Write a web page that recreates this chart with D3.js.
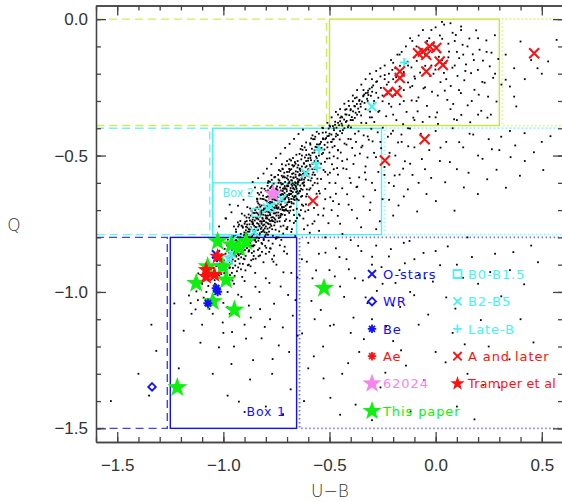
<!DOCTYPE html>
<html>
<head>
<meta charset="utf-8">
<script src="https://cdn.jsdelivr.net/npm/d3@7"></script>
<style>
  body { margin: 0; background: #fff; }
  svg { display: block; font-family: "DejaVu Sans", "Liberation Sans", sans-serif; }
</style>
</head>
<body>
<div id="chart"></div>
<script>
/* global d3 */

// axis ticks
const xTicks = [-1.5, -1.0, -0.5, 0.0, 0.5];
const yTicks = [0.0, -0.5, -1.0, -1.5];

// catalogue field stars [U-B, Q] - dense core of the sequence
const coreDots = [
  [-1.06,-0.93],[-1.04,-0.97],[-1.03,-0.9],[-1.02,-0.94],[-1.01,-0.88],[-1.0,-0.92],[-0.99,-0.86],[-0.98,-0.95],
  [-0.97,-0.89],[-0.96,-0.84],[-0.96,-0.93],[-1.08,-1.0],[-1.1,-0.97],[-1.05,-1.02],[-0.98,-1.0],[-0.95,-0.97],
  [-0.95,-0.82],[-0.94,-0.87],[-0.94,-0.78],[-0.93,-0.84],[-0.93,-0.91],[-0.92,-0.8],[-0.92,-0.86],[-0.91,-0.76],
  [-0.91,-0.83],[-0.9,-0.79],[-0.9,-0.88],[-0.89,-0.74],[-0.89,-0.82],[-0.88,-0.77],[-0.88,-0.85],[-0.87,-0.72],
  [-0.87,-0.8],[-0.86,-0.75],[-0.86,-0.83],[-0.85,-0.78],[-0.85,-0.7],[-0.95,-0.76],[-0.9,-0.72],[-0.92,-0.74],
  [-0.88,-0.9],[-0.86,-0.88],[-0.84,-0.73],[-0.84,-0.8],[-0.83,-0.68],[-0.83,-0.76],[-0.83,-0.84],[-0.82,-0.71],
  [-0.82,-0.78],[-0.81,-0.66],[-0.81,-0.74],[-0.81,-0.81],[-0.8,-0.69],[-0.8,-0.76],[-0.8,-0.63],[-0.79,-0.72],
  [-0.79,-0.79],[-0.78,-0.67],[-0.78,-0.74],[-0.78,-0.84],[-0.77,-0.64],[-0.77,-0.7],[-0.77,-0.77],[-0.76,-0.66],
  [-0.76,-0.73],[-0.75,-0.62],[-0.75,-0.69],[-0.75,-0.8],[-0.84,-0.66],[-0.82,-0.62],[-0.79,-0.6],[-0.76,-0.58],
  [-0.8,-0.86],[-0.77,-0.88],[-0.74,-0.65],[-0.74,-0.72],[-0.73,-0.6],[-0.73,-0.68],[-0.73,-0.76],[-0.72,-0.63],
  [-0.72,-0.7],[-0.71,-0.58],[-0.71,-0.66],[-0.71,-0.74],[-0.7,-0.61],[-0.7,-0.68],[-0.69,-0.56],[-0.69,-0.64],
  [-0.69,-0.71],[-0.68,-0.59],[-0.68,-0.67],[-0.68,-0.78],[-0.67,-0.54],[-0.67,-0.62],[-0.67,-0.7],[-0.66,-0.57],
  [-0.66,-0.65],[-0.65,-0.6],[-0.65,-0.52],[-0.72,-0.55],[-0.7,-0.52],[-0.74,-0.8],[-0.7,-0.77],[-0.66,-0.74],
  [-0.64,-0.55],[-0.64,-0.63],[-0.63,-0.5],[-0.63,-0.58],[-0.63,-0.68],[-0.62,-0.53],[-0.62,-0.61],[-0.61,-0.48],
  [-0.61,-0.56],[-0.61,-0.65],[-0.6,-0.51],[-0.6,-0.59],[-0.59,-0.46],[-0.59,-0.54],[-0.59,-0.62],[-0.58,-0.49],
  [-0.58,-0.57],[-0.57,-0.44],[-0.57,-0.52],[-0.57,-0.6],[-0.56,-0.47],[-0.56,-0.55],[-0.55,-0.5],[-0.55,-0.42],
  [-0.98,-0.83],[-0.97,-0.91],[-0.96,-0.87],[-0.94,-0.81],[-0.93,-0.76],[-0.91,-0.86],[-0.9,-0.75],[-0.89,-0.79],
  [-0.87,-0.83],[-0.86,-0.71],[-0.85,-0.81],[-0.84,-0.69],[-0.83,-0.72],[-0.82,-0.75],[-0.82,-0.82],[-0.81,-0.7],
  [-0.8,-0.73],[-0.8,-0.79],[-0.79,-0.65],[-0.79,-0.69],[-0.78,-0.62],[-0.78,-0.71],[-0.77,-0.61],[-0.77,-0.74],
  [-0.76,-0.69],[-0.76,-0.63],[-0.75,-0.66],[-0.75,-0.72],[-0.74,-0.6],[-0.74,-0.69],[-0.73,-0.63],[-0.73,-0.72],
  [-0.72,-0.58],[-0.72,-0.66],[-0.71,-0.62],[-0.71,-0.7],[-0.7,-0.56],[-0.7,-0.65],[-0.69,-0.6],[-0.69,-0.67],
  [-0.68,-0.55],[-0.68,-0.63],[-0.67,-0.58],[-0.67,-0.66],[-0.66,-0.53],[-0.66,-0.61],[-0.65,-0.56],[-0.65,-0.64],
  [-0.64,-0.59],[-0.63,-0.54],[-0.62,-0.57],[-0.61,-0.52],[-0.6,-0.55],[-0.59,-0.5],[-0.58,-0.53],[-0.57,-0.48],
  [-0.56,-0.51],[-0.55,-0.46]
];

// more of the core, read strip by strip in U-B
const coreDots2 = [
  [-1.047,-0.912],[-1.041,-0.957],[-1.036,-0.873],[-1.029,-0.934],[-1.024,-0.981],[-1.018,-0.896],[-1.013,-0.948],
  [-1.008,-0.862],[-1.004,-0.921],[-1.002,-0.969],[-1.033,-0.905],[-1.015,-0.927],
  [-0.998,-0.884],[-0.994,-0.842],[-0.991,-0.917],[-0.987,-0.963],[-0.983,-0.871],[-0.979,-0.808],[-0.976,-0.902],
  [-0.972,-0.856],[-0.969,-0.938],[-0.965,-0.823],[-0.962,-0.889],[-0.958,-0.847],[-0.955,-0.912],[-0.952,-0.795],
  [-0.996,-0.931],[-0.981,-0.829],[-0.967,-0.874],[-0.957,-0.958],[-0.986,-0.899],[-0.961,-0.836],
  [-0.949,-0.853],[-0.946,-0.812],[-0.944,-0.887],[-0.941,-0.771],[-0.938,-0.835],[-0.936,-0.924],[-0.933,-0.798],
  [-0.931,-0.861],[-0.928,-0.818],[-0.926,-0.753],[-0.923,-0.896],[-0.921,-0.842],[-0.918,-0.787],[-0.916,-0.873],
  [-0.913,-0.809],[-0.911,-0.945],[-0.908,-0.764],[-0.906,-0.851],[-0.903,-0.826],[-0.901,-0.782],[-0.947,-0.941],
  [-0.939,-0.869],[-0.932,-0.745],[-0.924,-0.806],[-0.917,-0.917],[-0.909,-0.839],[-0.904,-0.878],[-0.942,-0.795],
  [-0.927,-0.866],[-0.914,-0.757],
  [-0.899,-0.812],[-0.897,-0.743],[-0.895,-0.868],[-0.893,-0.785],[-0.891,-0.727],[-0.889,-0.839],[-0.887,-0.764],
  [-0.885,-0.902],[-0.883,-0.801],[-0.881,-0.716],[-0.879,-0.847],[-0.877,-0.779],[-0.875,-0.738],[-0.873,-0.821],
  [-0.871,-0.763],[-0.869,-0.884],[-0.867,-0.703],[-0.865,-0.795],[-0.863,-0.752],[-0.861,-0.833],[-0.859,-0.726],
  [-0.857,-0.868],[-0.855,-0.772],[-0.853,-0.711],[-0.851,-0.807],[-0.896,-0.921],[-0.888,-0.753],[-0.882,-0.826],
  [-0.874,-0.694],[-0.868,-0.812],[-0.862,-0.744],[-0.856,-0.851],[-0.852,-0.738],[-0.894,-0.774],[-0.878,-0.728],
  [-0.866,-0.857],[-0.858,-0.789],[-0.886,-0.797],[-0.872,-0.906],[-0.854,-0.829],
  [-0.849,-0.762],[-0.847,-0.694],[-0.846,-0.817],[-0.844,-0.731],[-0.842,-0.658],[-0.841,-0.789],[-0.839,-0.712],
  [-0.837,-0.846],[-0.836,-0.675],[-0.834,-0.751],[-0.832,-0.803],[-0.831,-0.643],[-0.829,-0.724],[-0.827,-0.866],
  [-0.826,-0.688],[-0.824,-0.769],[-0.822,-0.635],[-0.821,-0.742],[-0.819,-0.701],[-0.817,-0.824],[-0.816,-0.659],
  [-0.814,-0.778],[-0.812,-0.717],[-0.811,-0.891],[-0.809,-0.681],[-0.807,-0.753],[-0.806,-0.622],[-0.804,-0.796],
  [-0.802,-0.706],[-0.801,-0.664],[-0.848,-0.878],[-0.843,-0.772],[-0.838,-0.637],[-0.833,-0.695],[-0.828,-0.785],
  [-0.823,-0.716],[-0.818,-0.853],[-0.813,-0.647],[-0.808,-0.739],[-0.803,-0.831],[-0.845,-0.709],[-0.835,-0.812],
  [-0.825,-0.658],[-0.815,-0.732],[-0.805,-0.767],[-0.84,-0.668],[-0.83,-0.758],[-0.82,-0.683],[-0.81,-0.806],
  [-0.834,-0.869],
  [-0.799,-0.721],[-0.797,-0.652],[-0.796,-0.783],[-0.794,-0.689],[-0.792,-0.611],[-0.791,-0.748],[-0.789,-0.673],
  [-0.787,-0.812],[-0.786,-0.632],[-0.784,-0.706],[-0.782,-0.764],[-0.781,-0.596],[-0.779,-0.684],[-0.777,-0.841],
  [-0.776,-0.647],[-0.774,-0.727],[-0.772,-0.589],[-0.771,-0.698],[-0.769,-0.661],[-0.767,-0.794],[-0.766,-0.617],
  [-0.764,-0.741],[-0.762,-0.676],[-0.761,-0.867],[-0.759,-0.638],[-0.757,-0.712],[-0.756,-0.578],[-0.754,-0.772],
  [-0.752,-0.664],[-0.751,-0.623],[-0.798,-0.838],[-0.793,-0.731],[-0.788,-0.594],[-0.783,-0.657],[-0.778,-0.752],
  [-0.773,-0.679],[-0.768,-0.823],[-0.763,-0.603],[-0.758,-0.693],[-0.753,-0.805],[-0.795,-0.667],[-0.785,-0.779],
  [-0.775,-0.615],[-0.765,-0.701],[-0.755,-0.735],[-0.79,-0.628],[-0.78,-0.717],[-0.77,-0.644],[-0.76,-0.756],
  [-0.784,-0.853],[-0.774,-0.572],[-0.764,-0.889],[-0.796,-0.704],[-0.758,-0.661],[-0.771,-0.737],
  [-0.749,-0.684],[-0.747,-0.613],[-0.746,-0.742],[-0.744,-0.651],[-0.742,-0.571],[-0.741,-0.709],[-0.739,-0.634],
  [-0.737,-0.778],[-0.736,-0.592],[-0.734,-0.667],[-0.732,-0.726],[-0.731,-0.557],[-0.729,-0.645],[-0.727,-0.809],
  [-0.726,-0.606],[-0.724,-0.688],[-0.722,-0.548],[-0.721,-0.659],[-0.719,-0.621],[-0.717,-0.757],[-0.716,-0.576],
  [-0.714,-0.702],[-0.712,-0.637],[-0.711,-0.834],[-0.709,-0.597],[-0.707,-0.673],[-0.706,-0.536],[-0.704,-0.734],
  [-0.702,-0.624],[-0.701,-0.583],[-0.748,-0.801],[-0.743,-0.694],[-0.738,-0.553],[-0.733,-0.617],[-0.728,-0.714],
  [-0.723,-0.641],[-0.718,-0.786],[-0.713,-0.563],[-0.708,-0.654],[-0.703,-0.768],[-0.745,-0.627],[-0.735,-0.741],
  [-0.725,-0.574],[-0.715,-0.663],[-0.705,-0.697],[-0.74,-0.588],[-0.73,-0.679],[-0.72,-0.604],[-0.71,-0.718],
  [-0.734,-0.829],[-0.724,-0.532],[-0.714,-0.851],[-0.746,-0.664],[-0.708,-0.621],[-0.721,-0.699],
  [-0.699,-0.645],[-0.697,-0.574],[-0.696,-0.703],[-0.694,-0.612],[-0.692,-0.532],[-0.691,-0.67],[-0.689,-0.595],
  [-0.687,-0.739],[-0.686,-0.553],[-0.684,-0.628],[-0.682,-0.687],[-0.681,-0.518],[-0.679,-0.606],[-0.677,-0.77],
  [-0.676,-0.567],[-0.674,-0.649],[-0.672,-0.509],[-0.671,-0.62],[-0.669,-0.582],[-0.667,-0.718],[-0.666,-0.537],
  [-0.664,-0.663],[-0.662,-0.598],[-0.661,-0.795],[-0.659,-0.558],[-0.657,-0.634],[-0.656,-0.497],[-0.654,-0.695],
  [-0.652,-0.585],[-0.651,-0.544],[-0.698,-0.762],[-0.693,-0.655],[-0.688,-0.514],[-0.683,-0.578],[-0.678,-0.675],
  [-0.673,-0.602],[-0.668,-0.747],[-0.663,-0.524],[-0.658,-0.615],[-0.653,-0.729],[-0.695,-0.588],[-0.685,-0.702],
  [-0.675,-0.535],[-0.665,-0.624],[-0.655,-0.658],[-0.69,-0.549],[-0.68,-0.64],[-0.67,-0.565],
  [-0.649,-0.606],[-0.647,-0.535],[-0.645,-0.664],[-0.643,-0.573],[-0.641,-0.494],[-0.639,-0.631],[-0.637,-0.556],
  [-0.635,-0.7],[-0.633,-0.514],[-0.631,-0.589],[-0.629,-0.648],[-0.627,-0.479],[-0.625,-0.567],[-0.623,-0.731],
  [-0.621,-0.528],[-0.619,-0.61],[-0.617,-0.47],[-0.615,-0.581],[-0.613,-0.543],[-0.611,-0.679],[-0.609,-0.498],
  [-0.607,-0.624],[-0.605,-0.559],[-0.603,-0.756],[-0.601,-0.519],[-0.644,-0.716],[-0.636,-0.476],[-0.626,-0.601],
  [-0.616,-0.507],[-0.606,-0.641],[-0.64,-0.548],[-0.63,-0.465],[-0.62,-0.588],[-0.61,-0.452],[-0.634,-0.622],
  [-0.614,-0.705],[-0.604,-0.574],[-0.646,-0.597],[-0.624,-0.684],[-0.608,-0.539],
  [-0.599,-0.567],[-0.597,-0.496],[-0.595,-0.625],[-0.593,-0.534],[-0.591,-0.455],[-0.589,-0.592],[-0.587,-0.517],
  [-0.585,-0.661],[-0.583,-0.475],[-0.581,-0.55],[-0.579,-0.609],[-0.577,-0.44],[-0.575,-0.528],[-0.573,-0.692],
  [-0.571,-0.489],[-0.569,-0.571],[-0.567,-0.431],[-0.565,-0.542],[-0.563,-0.504],[-0.561,-0.64],[-0.559,-0.459],
  [-0.557,-0.585],[-0.555,-0.52],[-0.553,-0.717],[-0.551,-0.48],[-0.594,-0.677],[-0.586,-0.437],[-0.576,-0.562],
  [-0.566,-0.468],[-0.556,-0.602],[-0.59,-0.509],[-0.58,-0.426],[-0.57,-0.549],[-0.56,-0.413],[-0.584,-0.583],
  [-0.987,-0.731],[-0.962,-0.708],[-0.931,-0.684],[-0.905,-0.662],[-0.878,-0.638],[-0.851,-0.617],[-0.913,-0.713],
  [-0.887,-0.689],[-0.862,-0.597],[-0.836,-0.583],[-0.811,-0.566],[-0.795,-0.548],[-0.774,-0.531],[-0.752,-0.509],
  [-0.731,-0.493],[-0.709,-0.472],[-0.688,-0.457],[-0.667,-0.439],[-0.646,-0.421],[-0.625,-0.405]
];

// the darkest ridge of the core
const coreDots3 = [
  [-0.902,-0.793],[-0.897,-0.827],[-0.893,-0.761],[-0.889,-0.808],[-0.884,-0.779],[-0.881,-0.852],[-0.877,-0.752],
  [-0.873,-0.797],[-0.869,-0.768],[-0.866,-0.831],[-0.862,-0.735],[-0.858,-0.808],[-0.855,-0.757],[-0.851,-0.782],
  [-0.848,-0.726],[-0.844,-0.801],[-0.841,-0.748],[-0.837,-0.773],[-0.834,-0.717],[-0.83,-0.79],[-0.827,-0.741],
  [-0.823,-0.703],[-0.82,-0.764],[-0.816,-0.728],[-0.813,-0.756],[-0.809,-0.694],[-0.806,-0.781],[-0.802,-0.719],
  [-0.799,-0.745],[-0.795,-0.686],[-0.792,-0.768],[-0.788,-0.708],[-0.785,-0.735],[-0.781,-0.677],[-0.778,-0.699],
  [-0.774,-0.758],[-0.771,-0.671],[-0.767,-0.726],[-0.764,-0.692],[-0.76,-0.648],[-0.757,-0.745],[-0.753,-0.683],
  [-0.75,-0.709],[-0.746,-0.642],[-0.743,-0.676],[-0.739,-0.729],[-0.736,-0.652],[-0.732,-0.697],[-0.729,-0.628],
  [-0.725,-0.668],[-0.722,-0.716],[-0.718,-0.643],[-0.715,-0.689],[-0.711,-0.612],[-0.708,-0.655],[-0.704,-0.701],
  [-0.701,-0.631],[-0.697,-0.672],[-0.694,-0.603],[-0.69,-0.645],[-0.687,-0.689],[-0.683,-0.619],[-0.68,-0.659],
  [-0.676,-0.592],[-0.673,-0.634],[-0.669,-0.676],[-0.666,-0.607],[-0.662,-0.648],[-0.659,-0.579],[-0.655,-0.622],
  [-0.652,-0.661],[-0.648,-0.594],[-0.645,-0.638],[-0.641,-0.568],[-0.638,-0.61],[-0.634,-0.651],[-0.631,-0.582],
  [-0.627,-0.625],[-0.624,-0.556],[-0.62,-0.598],
  [-0.899,-0.846],[-0.891,-0.789],[-0.883,-0.818],[-0.875,-0.771],[-0.867,-0.742],[-0.859,-0.776],[-0.851,-0.811],
  [-0.843,-0.763],[-0.835,-0.734],[-0.827,-0.709],[-0.819,-0.742],[-0.811,-0.773],[-0.803,-0.697],[-0.795,-0.728],
  [-0.787,-0.751],[-0.779,-0.718],[-0.771,-0.689],[-0.763,-0.712],[-0.755,-0.663],[-0.747,-0.694],[-0.739,-0.671],
  [-0.731,-0.643],[-0.723,-0.691],[-0.715,-0.621],[-0.707,-0.684],[-0.699,-0.613],[-0.691,-0.662],[-0.683,-0.641],
  [-0.675,-0.611],[-0.667,-0.653],[-0.659,-0.601],[-0.651,-0.631],[-0.643,-0.588],[-0.635,-0.571],[-0.627,-0.603],
  [-0.619,-0.562],
  [-0.952,-0.862],[-0.944,-0.903],[-0.937,-0.846],[-0.929,-0.879],[-0.922,-0.829],[-0.915,-0.857],[-0.908,-0.897],
  [-0.956,-0.881],[-0.934,-0.815],[-0.919,-0.801],[-0.971,-0.912],[-0.977,-0.878],[-0.985,-0.918],[-0.993,-0.897],
  [-1.01,-0.935],[-1.021,-0.911]
];

// upper sequence towards late types
const bandDots = [
  [-0.54,-0.45],[-0.54,-0.53],[-0.53,-0.4],[-0.53,-0.49],[-0.52,-0.44],[-0.52,-0.56],[-0.51,-0.38],[-0.51,-0.47],
  [-0.5,-0.42],[-0.5,-0.51],[-0.49,-0.36],[-0.49,-0.45],[-0.48,-0.4],[-0.48,-0.55],[-0.47,-0.34],[-0.47,-0.43],
  [-0.46,-0.38],[-0.46,-0.48],[-0.45,-0.33],[-0.45,-0.41],[-0.44,-0.36],[-0.44,-0.52],[-0.43,-0.31],[-0.43,-0.4],
  [-0.42,-0.35],[-0.42,-0.46],[-0.41,-0.3],[-0.41,-0.39],[-0.4,-0.33],[-0.4,-0.44],[-0.39,-0.28],[-0.39,-0.37],
  [-0.38,-0.32],[-0.38,-0.42],[-0.37,-0.26],[-0.37,-0.35],[-0.36,-0.3],[-0.35,-0.24],[-0.35,-0.38],[-0.34,-0.28],
  [-0.33,-0.22],[-0.33,-0.33],[-0.32,-0.27],[-0.31,-0.2],[-0.31,-0.36],[-0.3,-0.25],[-0.29,-0.3],[-0.28,-0.19],
  [-0.28,-0.23],[-0.27,-0.34],[-0.26,-0.21],[-0.25,-0.28],[-0.24,-0.17],[-0.23,-0.24],[-0.22,-0.31],[-0.21,-0.15],
  [-0.2,-0.22],[-0.19,-0.18],[-0.18,-0.27],[-0.17,-0.13],[-0.16,-0.21],[-0.15,-0.3],[-0.14,-0.1],[-0.13,-0.17],
  [-0.12,-0.25],[-0.11,-0.08],[-0.1,-0.14],[-0.1,-0.21],[-0.09,-0.3],[-0.08,-0.06],[-0.07,-0.11],[-0.06,-0.18],
  [-0.05,-0.25],[-0.04,-0.08],[-0.03,-0.14],[-0.02,-0.04],[-0.01,-0.2],[0.0,-0.1],[0.01,-0.28],[0.02,-0.06],
  [0.03,-0.15],[0.04,-0.02],[0.05,-0.22],[0.06,-0.09],[0.07,-0.33],[0.08,-0.05],[0.09,-0.17],[0.1,-0.12],
  [0.11,-0.26],[0.12,-0.04],[0.14,-0.19],[0.15,-0.1],[0.17,-0.3],[0.18,-0.15],[0.2,-0.07],[0.22,-0.23],
  [0.24,-0.12],[0.26,-0.35],[0.28,-0.2],[-0.3,-0.36],[-0.2,-0.35],[-0.1,-0.37],[0.0,-0.36],[0.1,-0.37],
  [0.2,-0.35],[-0.4,-0.37],[-0.53,-0.44],[-0.5,-0.39],[-0.48,-0.44],[-0.46,-0.35],[-0.44,-0.39],[-0.42,-0.33],
  [-0.4,-0.37],[-0.38,-0.29],[-0.36,-0.34],[-0.34,-0.26],[-0.32,-0.3],[-0.3,-0.22],[-0.28,-0.27],[-0.26,-0.18],
  [-0.24,-0.22],[-0.22,-0.2],[-0.2,-0.16],[-0.18,-0.13],[-0.16,-0.12],[-0.14,-0.16],[-0.12,-0.07],[-0.09,-0.1],
  [-0.06,-0.04],[-0.03,-0.07],[0.0,-0.03],[0.03,-0.01],[-0.05,-0.13],[-0.02,-0.17],[0.02,-0.12],[0.06,-0.14],
  [0.09,-0.08],[0.13,-0.13],[0.07,-0.015],[0.12,-0.027],[0.40,-0.082],[0.53,-0.155],[0.48,-0.18],[0.57,-0.076],
  [0.33,-0.222],[0.35,-0.247],[0.37,-0.284],[0.33,-0.13],[0.37,-0.18],[0.42,-0.22],[0.45,-0.15],[0.5,-0.2],
  [0.38,-0.32],[0.31,-0.24]
];

const bandDots2 = [
  [-0.548,-0.528],[-0.544,-0.457],[-0.54,-0.586],[-0.536,-0.495],[-0.532,-0.416],[-0.528,-0.553],[-0.524,-0.478],
  [-0.52,-0.622],[-0.516,-0.436],[-0.512,-0.511],[-0.508,-0.57],[-0.504,-0.401],[-0.5,-0.489],[-0.496,-0.653],
  [-0.492,-0.45],[-0.488,-0.532],[-0.484,-0.392],[-0.48,-0.503],[-0.476,-0.465],[-0.472,-0.601],[-0.468,-0.42],
  [-0.464,-0.546],[-0.46,-0.481],[-0.456,-0.678],[-0.452,-0.441],[-0.546,-0.639],[-0.534,-0.398],[-0.522,-0.523],
  [-0.51,-0.429],[-0.498,-0.563],[-0.486,-0.47],[-0.474,-0.387],[-0.462,-0.51],[-0.45,-0.374],
  [-0.447,-0.489],[-0.441,-0.418],[-0.435,-0.547],[-0.429,-0.456],[-0.423,-0.377],[-0.417,-0.514],[-0.411,-0.439],
  [-0.405,-0.583],[-0.399,-0.397],[-0.393,-0.472],[-0.387,-0.531],[-0.381,-0.362],[-0.375,-0.45],[-0.369,-0.614],
  [-0.363,-0.411],[-0.357,-0.493],[-0.351,-0.353],[-0.345,-0.464],[-0.339,-0.426],[-0.333,-0.562],[-0.327,-0.381],
  [-0.321,-0.507],[-0.315,-0.442],[-0.309,-0.339],[-0.303,-0.402],[-0.444,-0.357],[-0.426,-0.332],[-0.408,-0.318],
  [-0.39,-0.301],[-0.372,-0.287],[-0.354,-0.311],[-0.336,-0.276],[-0.318,-0.262],
  [-0.297,-0.448],[-0.289,-0.377],[-0.281,-0.506],[-0.273,-0.415],[-0.265,-0.336],[-0.257,-0.473],[-0.249,-0.398],
  [-0.241,-0.542],[-0.233,-0.356],[-0.225,-0.431],[-0.217,-0.49],[-0.209,-0.321],[-0.201,-0.409],[-0.193,-0.573],
  [-0.185,-0.37],[-0.177,-0.452],[-0.169,-0.312],[-0.161,-0.423],[-0.153,-0.385],[-0.145,-0.521],[-0.137,-0.34],
  [-0.129,-0.466],[-0.121,-0.401],[-0.113,-0.298],[-0.105,-0.361],[-0.294,-0.243],[-0.276,-0.228],[-0.258,-0.252],
  [-0.24,-0.205],[-0.222,-0.231],[-0.204,-0.186],[-0.186,-0.213],[-0.168,-0.171],[-0.15,-0.194],[-0.132,-0.156],
  [-0.114,-0.177],[-0.29,-0.31],[-0.27,-0.288],[-0.25,-0.301],[-0.23,-0.276],[-0.21,-0.262],[-0.19,-0.278],
  [-0.17,-0.247],[-0.15,-0.26],[-0.13,-0.232],[-0.11,-0.245],
  [-0.097,-0.218],[-0.089,-0.153],[-0.081,-0.287],[-0.073,-0.196],[-0.065,-0.124],[-0.057,-0.254],[-0.049,-0.171],
  [-0.041,-0.318],[-0.033,-0.112],[-0.025,-0.209],[-0.017,-0.266],[-0.009,-0.087],[-0.001,-0.185],[0.007,-0.342],
  [0.015,-0.138],[0.023,-0.231],[0.031,-0.072],[0.039,-0.197],[0.047,-0.161],[0.055,-0.296],[0.063,-0.119],
  [0.071,-0.245],[0.079,-0.178],[0.087,-0.367],[0.095,-0.058],[0.103,-0.208],[0.111,-0.143],[0.119,-0.271],
  [0.127,-0.094],[0.135,-0.224],[0.143,-0.166],[0.151,-0.316],[0.159,-0.071],[0.167,-0.198],[0.175,-0.129],
  [0.183,-0.259],[0.191,-0.041],[0.199,-0.186],[0.207,-0.112],[0.215,-0.336],[0.223,-0.152],[0.231,-0.233],
  [0.239,-0.078],[0.247,-0.284],[0.255,-0.173],[0.263,-0.123],[0.271,-0.215],[0.279,-0.059],[0.287,-0.302],
  [0.295,-0.146],[-0.085,-0.338],[-0.061,-0.377],[-0.029,-0.358],[0.011,-0.384],[0.043,-0.262],[0.083,-0.311],
  [0.121,-0.351],[0.163,-0.378],[0.203,-0.277],[0.244,-0.361],
  [-0.538,-0.472],[-0.531,-0.437],[-0.523,-0.461],[-0.517,-0.415],[-0.509,-0.452],[-0.503,-0.428],[-0.497,-0.394],
  [-0.491,-0.423],[-0.485,-0.441],[-0.479,-0.407],[-0.473,-0.376],[-0.467,-0.398],[-0.461,-0.425],[-0.455,-0.389],
  [-0.449,-0.361],[-0.443,-0.383],[-0.437,-0.407],[-0.431,-0.368],[-0.425,-0.349],[-0.419,-0.373],[-0.413,-0.396],
  [-0.407,-0.352],[-0.401,-0.334],[-0.395,-0.359],[-0.389,-0.338],[-0.383,-0.318],[-0.377,-0.343],[-0.371,-0.311],
  [-0.365,-0.328],[-0.359,-0.296],[-0.353,-0.321],[-0.347,-0.302],[-0.341,-0.283],[-0.335,-0.307],[-0.329,-0.271],
  [-0.323,-0.292],[-0.317,-0.278],[-0.311,-0.255],[-0.305,-0.281],[-0.299,-0.266]
];

// sparse population below the sequence
const scatterDots = [
  [-0.64,-0.72],[-0.62,-0.77],[-0.6,-0.7],[-0.58,-0.75],[-0.56,-0.68],[-0.55,-0.63],[-0.53,-0.72],[-0.52,-0.66],
  [-0.5,-0.6],[-0.49,-0.7],[-0.47,-0.64],[-0.46,-0.57],[-0.45,-0.75],[-0.44,-0.62],[-0.42,-0.55],[-0.41,-0.68],
  [-0.4,-0.6],[-0.38,-0.5],[-0.37,-0.73],[-0.36,-0.58],[-0.35,-0.47],[-0.34,-0.65],[-0.33,-0.54],[-0.32,-0.43],
  [-0.31,-0.7],[-0.3,-0.6],[-0.29,-0.49],[-0.28,-0.77],[-0.27,-0.56],[-0.26,-0.45],[-0.25,-0.66],[-0.24,-0.52],
  [-0.22,-0.6],[-0.21,-0.42],[-0.2,-0.72],[-0.19,-0.5],[-0.17,-0.57],[-0.16,-0.45],[-0.15,-0.65],[-0.13,-0.4],
  [-0.12,-0.53],[-0.1,-0.47],[-0.08,-0.6],[-0.07,-0.42],[-0.05,-0.55],[-0.03,-0.48],[0.0,-0.41],[0.02,-0.52],
  [0.05,-0.45],[0.08,-0.4],[0.1,-0.55],[0.13,-0.47],[0.16,-0.42],[0.2,-0.5],[0.25,-0.44],[0.3,-0.48],
  [0.35,-0.41],[0.42,-0.52],[0.5,-0.45],
  [-1.08,-1.05],[-1.12,-1.03],[-1.15,-1.08],[-1.1,-1.12],[-1.05,-1.08],[-1.0,-1.04],[-0.97,-1.08],[-0.93,-1.01],
  [-0.9,-0.96],[-0.88,-1.05],[-0.85,-0.93],[-0.83,-1.0],[-0.8,-0.95],[-0.78,-1.1],[-0.75,-0.9],[-0.73,-0.98],
  [-0.7,-0.86],[-0.68,-0.93],[-0.66,-1.03],[-0.63,-0.88],[-0.6,-0.82],[-0.58,-0.95],[-0.55,-0.86],[-0.52,-0.8],
  [-0.5,-0.92],[-0.47,-0.84],[-0.45,-0.98],[-0.42,-0.88],[-0.4,-0.81],[-0.38,-0.95],[-0.35,-0.85],[-0.33,-1.02],
  [-0.3,-0.9],[-0.28,-0.83],[-0.25,-0.97],[-0.22,-0.87],[-0.2,-1.05],[-0.17,-0.92],[-0.15,-0.82],[-0.12,-1.0],
  [-0.1,-0.88],[-0.05,-0.95],[0.0,-0.85],[0.05,-1.02],[0.1,-0.9],[0.15,-0.8],[0.2,-0.97],[0.28,-0.86],
  [0.35,-0.92],[0.45,-0.83],
  [-1.0,-1.15],[-0.95,-1.2],[-0.9,-1.12],[-0.86,-1.25],[-0.82,-1.17],[-0.77,-1.3],[-0.72,-1.13],[-0.69,-1.22],
  [-0.65,-1.16],[-0.6,-1.28],[-0.57,-1.1],[-0.53,-1.2],[-0.48,-1.12],[-0.44,-1.3],[-0.4,-1.15],[-0.36,-1.22],
  [-0.3,-1.1],[-0.26,-1.35],[-0.2,-1.18],[-0.14,-1.27],[-0.08,-1.12],[0.0,-1.22],[0.08,-1.15],[0.15,-1.3],
  [0.25,-1.2],[0.4,-1.1],[-1.05,-1.3],[-0.98,-1.38],[-0.9,-1.44],[-0.8,-1.42],[-0.62,-1.4],[-0.45,-1.45],
  [-0.3,-1.47],[0.1,-1.42],[0.3,-1.35],[-1.339,-1.12],[-1.316,-1.216],[-1.4,-1.30],[-1.53,-1.4],[-1.35,-1.38],
  [-1.21,-1.28],[-0.99,-0.73],[-1.02,-0.76],[-0.97,-0.68]
];

const scatterDots2 = [
  [-0.593,-0.783],[-0.571,-0.741],[-0.549,-0.776],[-0.527,-0.694],[-0.505,-0.748],[-0.483,-0.667],[-0.461,-0.721],
  [-0.439,-0.787],[-0.417,-0.642],[-0.395,-0.699],[-0.373,-0.616],[-0.351,-0.763],[-0.329,-0.588],[-0.307,-0.672],
  [-0.285,-0.627],[-0.263,-0.741],[-0.241,-0.571],[-0.219,-0.662],[-0.197,-0.612],[-0.175,-0.683],[-0.153,-0.548],
  [-0.131,-0.624],[-0.109,-0.571],[-0.087,-0.705],[-0.065,-0.513],[-0.043,-0.641],[-0.021,-0.582],[0.001,-0.667],
  [0.023,-0.471],[0.045,-0.598],[0.067,-0.524],[0.089,-0.702],[0.111,-0.451],[0.133,-0.617],[0.155,-0.563],
  [0.177,-0.423],[0.199,-0.641],[0.221,-0.512],[0.243,-0.587],[0.265,-0.477],[0.287,-0.552],[0.309,-0.431],
  [0.331,-0.618],[0.353,-0.506],[0.375,-0.463],[0.397,-0.574],[0.419,-0.418],[0.463,-0.488],[0.507,-0.553],
  [0.541,-0.429],
  [-1.003,-1.112],[-0.981,-1.056],[-0.959,-1.147],[-0.937,-1.083],[-0.915,-1.018],[-0.893,-1.171],[-0.871,-1.094],
  [-0.849,-0.981],[-0.827,-1.063],[-0.805,-1.128],[-0.783,-0.967],[-0.761,-1.043],[-0.739,-1.196],[-0.717,-0.928],
  [-0.695,-1.011],[-0.673,-1.087],[-0.651,-0.947],[-0.629,-1.152],[-0.607,-0.889],[-0.585,-1.033],[-0.563,-0.921],
  [-0.541,-1.066],[-0.519,-0.856],[-0.497,-1.124],[-0.475,-0.943],[-0.453,-0.872],[-0.431,-1.018],[-0.409,-0.917],
  [-0.387,-1.094],[-0.365,-0.831],[-0.343,-0.958],[-0.321,-1.041],[-0.299,-0.871],[-0.277,-0.996],[-0.255,-0.909],
  [-0.233,-1.127],[-0.211,-0.843],[-0.189,-0.967],[-0.167,-1.055],[-0.145,-0.895],[-0.123,-0.813],[-0.101,-1.012],
  [-0.079,-0.938],[-0.057,-0.857],[-0.035,-1.083],[-0.013,-0.962],[0.021,-0.902],[0.057,-0.833],[0.093,-1.061],
  [0.129,-0.948],[0.171,-0.872],[0.213,-1.103],[0.257,-0.927],[0.309,-1.016],[0.366,-0.854],[0.417,-0.972],
  [0.482,-0.891],[-0.962,-1.264],[-0.874,-1.321],[-0.768,-1.246],[-0.683,-1.357],[-0.574,-1.236],[-0.496,-1.388],
  [-0.412,-1.261],[-0.338,-1.173],[-0.237,-1.296],[-0.163,-1.214],[-0.054,-1.323],[0.047,-1.258],[0.137,-1.192],
  [0.224,-1.341],[0.348,-1.247],[0.461,-1.185],[-1.021,-1.203],[-0.927,-1.402],[-0.719,-1.448],[-0.528,-1.317],
  [-0.377,-1.413],[-0.118,-1.438],[0.183,-1.467],[-1.162,-1.013],[-1.131,-1.064],[-1.187,-1.142],[-1.108,-1.186],
  [-1.231,-1.042],[-1.142,-0.963],[-1.127,-0.998],[-1.093,-1.021],[-1.118,-0.932],[-1.071,-0.978],[-1.154,-1.041],
  [-1.066,-1.062]
];

// selection boxes [U-B min, U-B max, Q min, Q max]
const boxYellow = [-0.5, 0.3, -0.39, 0.0];
const boxCyan = [-1.05, -0.255, -0.79, -0.40];
const box2 = [-1.05, -0.655, -0.79, -0.60];
const box1 = [-1.25, -0.655, -1.5, -0.80];

// classified stars [U-B, Q]
const oStars = [[-1.035, -0.862]];
const wrStars = [[-1.336, -1.348]];
const beStars = [[-1.034, -0.986], [-1.027, -0.999], [-1.073, -1.041], [-1.03, -0.875]];
const b0Stars = [[-0.847, -0.709]];
const b2Stars = [[-0.956, -0.809], [-0.964, -0.858], [-0.975, -0.882], [-0.855, -0.779], [-0.792, -0.693],
  [-0.777, -0.687], [-0.725, -0.659], [-0.612, -0.565], [-0.30, -0.32]];
const lateBStars = [[-0.558, -0.546], [-0.565, -0.528], [-0.55, -0.479], [-0.148, -0.159]];
const aStars = [[0.464, -0.125], [-0.083, -0.125], [-0.06, -0.119], [-0.028, -0.10], [0.003, -0.106],
  [-0.044, -0.131], [0.019, -0.155], [0.034, -0.168], [-0.044, -0.192], [-0.169, -0.192], [-0.169, -0.216],
  [-0.224, -0.268], [-0.183, -0.268], [-0.052, -0.44], [-0.239, -0.518], [-0.578, -0.666]];
const star62024 = [[-0.766, -0.64]];
const tramperStars = [[-1.027, -0.870], [-1.081, -0.919], [-1.042, -0.937], [-1.081, -0.944]];
const paperStars = [[-1.027, -0.815], [-0.893, -0.815], [-0.925, -0.839], [-0.962, -0.827], [-1.074, -0.907],
  [-1.003, -0.907], [-1.128, -0.968], [-0.987, -0.956], [-1.050, -1.035], [-0.948, -1.066],
  [-1.217, -1.350], [-0.526, -0.986]];

const legendLeft = ["O-stars", "WR", "Be", "Ae", "62024", "This paper"];
const legendRight = ["B0-B1.5", "B2-B5", "Late-B", "A and later", "Tramper et al"];

const BLUE = "#1010ff", RED = "#ff1010", CYAN = "#4af2f2", GREEN = "#10f010", VIOLET = "#f585ee", YELLOW = "#c8e632";

// symbol shapes, r is half size
const shapes = {
  star(p, r) {
    for (let i = 0; i < 10; i++) {
      const a = -Math.PI / 2 + i * Math.PI / 5;
      const rr = i % 2 ? r * 0.4 : r;
      if (i === 0) p.moveTo(rr * Math.cos(a), rr * Math.sin(a));
      else p.lineTo(rr * Math.cos(a), rr * Math.sin(a));
    }
    p.closePath();
  },
  times(p, r) { p.moveTo(-r, -r); p.lineTo(r, r); p.moveTo(-r, r); p.lineTo(r, -r); },
  plus(p, r) { p.moveTo(-r, 0); p.lineTo(r, 0); p.moveTo(0, -r); p.lineTo(0, r); },
  square(p, r) { p.rect(-r, -r, 2 * r, 2 * r); },
  diamond(p, r) { p.moveTo(0, -r); p.lineTo(r, 0); p.lineTo(0, r); p.lineTo(-r, 0); p.closePath(); },
  asterisk(p, r) {
    for (let i = 0; i < 4; i++) {
      const a = i * Math.PI / 4;
      p.moveTo(-r * Math.cos(a), -r * Math.sin(a)); p.lineTo(r * Math.cos(a), r * Math.sin(a));
    }
  }
};
function shapePath(name, r) {
  const p = d3.path();
  shapes[name](p, r);
  return p.toString();
}

function drawChart(selector) {
  const W = 562, H = 502;
  const x = d3.scaleLinear().domain([-1.6, 0.6]).range([96, 563]);
  const y = d3.scaleLinear().domain([-1.55, 0.05]).range([442, 5.5]);

  const svg = d3.select(selector).append("svg").attr("width", W).attr("height", H);

  // boxes with their dashed (left) and dotted (right) extensions
  const boxLayer = svg.append("g").attr("fill", "none").attr("stroke-width", 1.4);
  function drawBox(b, color, wings) {
    const x0 = x(b[0]), x1 = x(b[1]), yb = y(b[2]), yt = y(b[3]);
    boxLayer.append("rect").attr("x", x0).attr("y", yt).attr("width", x1 - x0).attr("height", yb - yt)
      .attr("stroke", color);
    if (!wings) return;
    const xl = x.range()[0], xr = x.range()[1];
    boxLayer.append("path")
      .attr("d", `M${xl},${yt}H${x0 - 3}V${yb}H${xl}`)
      .attr("stroke", color).attr("stroke-opacity", 0.8).attr("stroke-dasharray", "8,5");
    boxLayer.append("path")
      .attr("d", `M${xr},${yt}H${x1 + 3}V${yb}H${xr}`)
      .attr("stroke", color).attr("stroke-opacity", 0.6).attr("stroke-width", 1.8).attr("stroke-dasharray", "1.4,2.6");
  }
  drawBox(boxYellow, YELLOW, true);
  drawBox(boxCyan, CYAN, true);
  drawBox(box2, CYAN, false);
  drawBox(box1, BLUE, true);

  // field stars
  const allDots = coreDots.concat(coreDots2, coreDots3, bandDots, bandDots2, scatterDots, scatterDots2);
  svg.append("g").attr("fill", "#000")
    .selectAll("rect").data(allDots).enter().append("rect")
    .attr("x", d => x(d[0]) - 0.9).attr("y", d => y(d[1]) - 0.9)
    .attr("width", 1.8).attr("height", 1.8);

  // box labels sit on top of the field stars
  svg.append("text").attr("x", x(box2[0]) + 10).attr("y", y(box2[3]) + 14)
    .attr("fill", CYAN).attr("font-size", 12).attr("textLength", 31).attr("lengthAdjust", "spacingAndGlyphs")
    .text("Box 2");
  svg.append("text").attr("x", x(box1[1]) - 50).attr("y", y(box1[2]) - 12)
    .attr("fill", BLUE).attr("font-size", 12.5).attr("letter-spacing", 0.8).text("Box 1");

  // axes: ticks point inwards on all four sides
  const axisLayer = svg.append("g").attr("class", "axes");
  const minorX = d3.range(-1.6, 0.61, 0.1).map(v => +v.toFixed(2));
  const minorY = d3.range(-1.5, 0.01, 0.1).map(v => +v.toFixed(2));
  const fmt = d => d3.format(".1f")(d).replace("-", "\u2212");
  function styleAxis(g) {
    g.selectAll("path, line").attr("stroke", "#444").attr("stroke-width", 1.3);
    g.selectAll("text").attr("fill", "#333").attr("font-size", 17).attr("font-weight", 300);
  }
  axisLayer.append("g").attr("transform", `translate(0,${y.range()[0]})`)
    .call(d3.axisBottom(x).tickValues(minorX).tickSize(-5).tickSizeOuter(0).tickFormat(""))
    .call(styleAxis);
  axisLayer.append("g").attr("transform", `translate(0,${y.range()[0]})`)
    .call(d3.axisBottom(x).tickValues(xTicks).tickSize(-10).tickSizeOuter(0).tickPadding(17).tickFormat(fmt))
    .call(styleAxis);
  axisLayer.append("g").attr("transform", `translate(0,${y.range()[1]})`)
    .call(d3.axisTop(x).tickValues(minorX).tickSize(-5).tickSizeOuter(0).tickFormat(""))
    .call(styleAxis);
  axisLayer.append("g").attr("transform", `translate(0,${y.range()[1]})`)
    .call(d3.axisTop(x).tickValues(xTicks).tickSize(-10).tickSizeOuter(0).tickFormat(""))
    .call(styleAxis);
  axisLayer.append("g").attr("transform", `translate(${x.range()[0]},0)`)
    .call(d3.axisLeft(y).tickValues(minorY).tickSize(-5).tickSizeOuter(0).tickFormat(""))
    .call(styleAxis);
  axisLayer.append("g").attr("transform", `translate(${x.range()[0]},0)`)
    .call(d3.axisLeft(y).tickValues(yTicks).tickSize(-10).tickSizeOuter(0).tickPadding(8).tickFormat(fmt))
    .call(styleAxis);
  axisLayer.append("g").attr("transform", `translate(${x.range()[1]},0)`)
    .call(d3.axisRight(y).tickValues(minorY).tickSize(-5).tickSizeOuter(0).tickFormat(""))
    .call(styleAxis);
  axisLayer.append("g").attr("transform", `translate(${x.range()[1]},0)`)
    .call(d3.axisRight(y).tickValues(yTicks).tickSize(-10).tickSizeOuter(0).tickFormat(""))
    .call(styleAxis);

  svg.append("text").attr("x", 330).attr("y", 497).attr("text-anchor", "middle")
    .attr("fill", "#333").attr("font-size", 17).attr("font-weight", 300).text("U\u2212B");
  svg.append("text").attr("x", 14).attr("y", 231).attr("text-anchor", "middle")
    .attr("fill", "#333").attr("font-size", 17).attr("font-weight", 300).text("Q");

  // classified stars
  const markLayer = svg.append("g");
  function plotMarks(data, shape, r, color, filled, sw) {
    markLayer.append("g").selectAll("path").data(data).enter().append("path")
      .attr("transform", d => `translate(${x(d[0])},${y(d[1])})`)
      .attr("d", shapePath(shape, r))
      .attr("fill", filled ? color : "none")
      .attr("stroke", filled ? "none" : color)
      .attr("stroke-width", sw || 2);
  }
  plotMarks(b2Stars, "times", 4.5, CYAN, false, 2);
  plotMarks(lateBStars, "plus", 4.5, CYAN, false, 2);
  plotMarks(b0Stars, "square", 4, CYAN, false, 1.4);
  plotMarks(aStars, "times", 5, RED, false, 2);
  plotMarks(star62024, "star", 10, VIOLET, true);
  plotMarks(paperStars, "star", 10.5, GREEN, true);
  plotMarks(beStars, "asterisk", 4.5, BLUE, false, 2);
  plotMarks(oStars, "times", 4, BLUE, false, 2);
  plotMarks(tramperStars, "star", 8.8, RED, true);
  plotMarks(wrStars, "diamond", 3.8, BLUE, false, 1.8);

  // legend
  const legend = svg.append("g").attr("font-size", 13).attr("letter-spacing", 0.9);
  const leftSyms = [["times", 4, BLUE, false], ["diamond", 4, BLUE, false], ["asterisk", 4.2, BLUE, false],
    ["asterisk", 4.2, RED, false], ["star", 10, VIOLET, true], ["star", 10, GREEN, true]];
  const rightSyms = [["square", 4, CYAN, false], ["times", 4, CYAN, false], ["plus", 4.2, CYAN, false],
    ["times", 4.2, RED, false], ["star", 7.5, RED, true]];
  function legendColumn(labels, syms, sx, tx) {
    labels.forEach((label, i) => {
      const cy = 274 + i * 27.4;
      const s = syms[i];
      legend.append("path").attr("transform", `translate(${sx},${cy})`)
        .attr("d", shapePath(s[0], s[1]))
        .attr("fill", s[3] ? s[2] : "none").attr("stroke", s[3] ? "none" : s[2]).attr("stroke-width", 1.8);
      const t = legend.append("text").attr("x", tx).attr("y", cy + 4.7).attr("fill", s[2]).text(label);
      if (label.length > 12) t.attr("letter-spacing", 0.3).attr("textLength", 88).attr("lengthAdjust", "spacingAndGlyphs");
    });
  }
  legendColumn(legendLeft, leftSyms, 372, 383);
  legendColumn(legendRight, rightSyms, 457.5, 468);
}

drawChart("#chart");
</script>
</body>
</html>
